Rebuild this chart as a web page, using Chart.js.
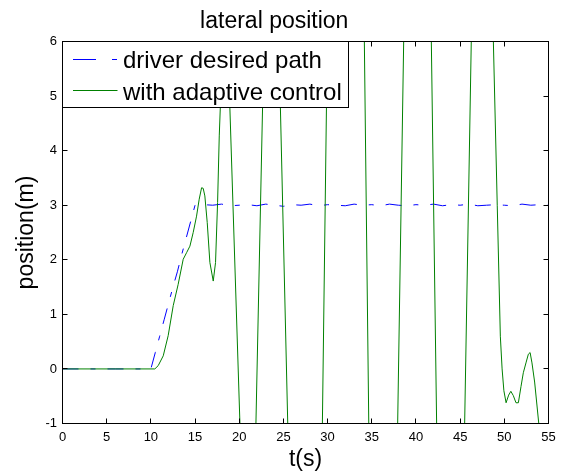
<!DOCTYPE html>
<html>
<head>
<meta charset="utf-8">
<script src="https://cdn.jsdelivr.net/npm/chart.js@4.4.1/dist/chart.umd.min.js"></script>
<style>
  html, body { margin: 0; padding: 0; background: #fff; }
  #wrap { width: 563px; height: 475px; }
</style>
</head>
<body>
<div id="wrap"><canvas id="lateralChart" width="563" height="475"></canvas></div>
<script>
// driver desired path (blue, dash-dot)
const desiredT = [0, 2, 4, 6, 8, 10, 10.5, 11, 11.5, 12, 12.5, 13, 13.5, 14, 14.5, 15,
  16, 17, 18, 19, 20, 21, 22, 23, 24, 25, 26, 27, 28, 29, 30, 31, 32, 33, 34, 35,
  36, 37, 38, 39, 40, 41, 42, 43, 44, 45, 46, 47, 48, 49, 50, 51, 52, 53, 54, 55];
const desiredY = [0, 0, 0, 0, 0, 0, 0.3, 0.6, 0.9, 1.2, 1.5, 1.78, 2.1, 2.4, 2.7, 3.0,
  3.01, 3.0, 3.02, 2.99, 3.0, 3.01, 2.99, 3.02, 3.0, 2.98, 3.01, 3.0, 3.02, 2.99, 3.01, 3.0, 2.99, 3.02, 3.0, 3.01,
  2.99, 3.02, 3.0, 2.99, 3.01, 3.0, 3.02, 2.99, 3.01, 3.0, 3.02, 2.99, 3.0, 3.01, 3.0, 2.99, 3.02, 3.0, 3.01, 3.0];

// with adaptive control (green)
const adaptiveT = [0, 10.45, 10.83, 11.4, 11.96, 12.53, 13.09, 13.66, 14.04, 14.42, 14.79, 15.17,
  15.47, 15.74, 15.92, 16.11, 16.38, 16.68, 17.06, 17.32, 17.55, 17.74, 17.93, 18.45,
  18.94, 20.08, 21.17, 21.89, 22.64, 23.6, 24.66, 25.49, 28.0, 29.41, 29.87, 32.17,
  34.16, 34.66, 36.05, 37.93, 38.61, 40.27, 41.74, 42.34, 43.74, 45.51, 46.26, 47.41,
  48.76, 49.2, 49.55, 49.75, 49.95, 50.2, 50.49, 50.74, 51.02, 51.32, 51.59, 51.89,
  52.15, 52.45, 52.72, 52.92, 53.13, 53.43, 53.9, 55];
const adaptiveY = [0, 0, 0.06, 0.24, 0.61, 1.16, 1.55, 2.01, 2.13, 2.25, 2.5, 2.8,
  3.11, 3.32, 3.31, 3.17, 2.68, 1.95, 1.61, 1.95, 3.05, 4.27, 5.1, 7.4,
  4.79, -1, -6.5, -1, 4.79, 12.2, 4.79, -1, -18.6, -1, 4.79, 33.8,
  6, -1, -20.4, -1, 6, 23.1, 6, -1, -17.4, -1, 6, 16.7,
  6, 3.0, 0.6, 0.0, -0.4, -0.62, -0.48, -0.41, -0.49, -0.62, -0.62, -0.32,
  -0.07, 0.11, 0.27, 0.3, 0.11, -0.24, -1, -3.0];

const xTicks = [0, 55, 5];   // min, max, step
const yTicks = [-1, 6, 1];

const toPoints = (ts, ys) => ts.map((t, i) => ({ x: t, y: ys[i] }));

Chart.defaults.font.family = "'Liberation Sans', Arial, sans-serif";
Chart.defaults.color = "#000";

// MATLAB style box, inward ticks and legend inside the axes
const axesBox = {
  id: "axesBox",
  afterDatasetsDraw(chart) {
    const { ctx, chartArea: a, scales } = chart;
    const xs = scales.x, ys = scales.y;
    const tl = 5;
    ctx.save();
    ctx.strokeStyle = "#000";
    ctx.lineWidth = 1;
    ctx.setLineDash([]);
    ctx.beginPath();
    xs.ticks.forEach((t) => {
      const px = Math.round(xs.getPixelForValue(t.value) - 0.5) + 0.5;
      ctx.moveTo(px, a.bottom); ctx.lineTo(px, a.bottom - tl);
      ctx.moveTo(px, a.top); ctx.lineTo(px, a.top + tl);
    });
    ys.ticks.forEach((t) => {
      const py = Math.round(ys.getPixelForValue(t.value) - 0.5) + 0.5;
      ctx.moveTo(a.left, py); ctx.lineTo(a.left + tl, py);
      ctx.moveTo(a.right, py); ctx.lineTo(a.right - tl, py);
    });
    ctx.stroke();
    ctx.strokeRect(a.left, a.top, a.right - a.left, a.bottom - a.top);

    // legend
    const lx = a.left, ly = a.top, lw = 286, lh = 66;
    ctx.fillStyle = "#fff";
    ctx.fillRect(lx, ly, lw, lh);
    ctx.strokeRect(lx, ly, lw, lh);
    const ds = chart.data.datasets;
    const rows = [{ y: 59.5, base: 68 }, { y: 90.5, base: 99.5 }];
    ds.forEach((d, i) => {
      const r = rows[i];
      ctx.strokeStyle = d.borderColor;
      ctx.setLineDash(i === 0 ? [23, 16, 5, 100] : []);
      ctx.beginPath();
      ctx.moveTo(lx + 10.5, r.y);
      ctx.lineTo(lx + 55, r.y);
      ctx.stroke();
      ctx.setLineDash([]);
      ctx.fillStyle = "#000";
      ctx.font = "24px 'Liberation Sans', Arial, sans-serif";
      ctx.textBaseline = "alphabetic";
      ctx.textAlign = "left";
      ctx.fillText(d.label, lx + 60.5, r.base);
    });
    ctx.restore();
  },
};

window.addEventListener("load", () => {
  const ctx = document.getElementById("lateralChart");
  new Chart(ctx, {
    type: "line",
    data: {
      datasets: [
        {
          label: "driver desired path",
          data: toPoints(desiredT, desiredY),
          borderColor: "#0000ff",
          borderWidth: 1,
          borderDash: [16, 12, 5, 12],
          pointRadius: 0,
          tension: 0,
          fill: false,
          order: 1,
        },
        {
          label: "with adaptive control",
          data: toPoints(adaptiveT, adaptiveY),
          borderColor: "#008000",
          borderWidth: 1,
          pointRadius: 0,
          tension: 0,
          fill: false,
          order: 0,
        },
      ],
    },
    options: {
      responsive: false,
      animation: false,
      devicePixelRatio: 1,
      layout: { padding: { left: 0, right: 14.5, top: 0, bottom: 0 } },
      scales: {
        x: {
          type: "linear",
          min: xTicks[0],
          max: xTicks[1],
          ticks: { stepSize: xTicks[2], autoSkip: false, maxRotation: 0, font: { size: 13 }, padding: 6, color: "#000" },
          grid: { display: false, drawTicks: false },
          border: { display: false },
          title: { display: true, text: "t(s)", font: { size: 23 }, color: "#000", padding: { top: 0, bottom: 1.2 } },
          afterFit: (axis) => { axis.height = 51.5; },
        },
        y: {
          type: "linear",
          min: yTicks[0],
          max: yTicks[1],
          ticks: { stepSize: yTicks[2], font: { size: 13 }, padding: 5.5, color: "#000" },
          grid: { display: false, drawTicks: false },
          border: { display: false },
          title: { display: true, text: "position(m)", font: { size: 23 }, color: "#000", padding: { top: 12.5, bottom: 0 } },
          afterFit: (axis) => { axis.width = 62.5; },
        },
      },
      plugins: {
        legend: { display: false },
        tooltip: { enabled: false },
        title: {
          display: true,
          text: "lateral position",
          color: "#000",
          font: { size: 23, weight: "normal" },
          padding: { top: 7.5, bottom: 6.4 },
        },
      },
    },
    plugins: [axesBox],
  });
});
</script>
</body>
</html>
